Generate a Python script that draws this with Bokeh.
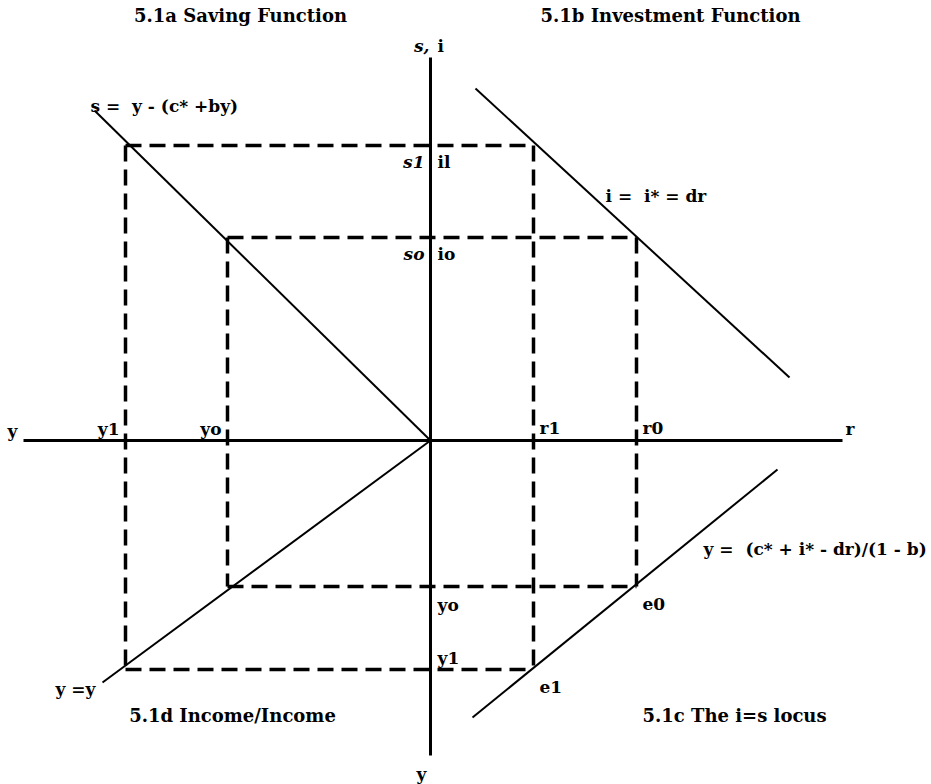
from bokeh.plotting import figure
from bokeh.models import Range1d, ColumnDataSource
from bokeh.core.properties import value
from bokeh.embed import file_html
from bokeh.resources import INLINE

# ---- data (schematic units, origin at axes crossing) ----
income_labels = ["yo", "y1"]
income_levels = [203, 305]          # income on left horizontal axis
saving_labels = ["so", "s1"]
invest_labels = ["io", "il"]
saving_levels = [203, 295]          # s = i levels on upper vertical axis
rate_labels = ["r0", "r1"]
rate_levels = [206, 103]            # interest rate on right horizontal axis
equil_labels = ["e0", "e1"]
income_down_levels = [146, 229]     # income on lower vertical axis

saving_fn_x = [-336, 0]
saving_fn_y = [330, 0]
invest_fn_x = [45, 359]
invest_fn_y = [352, 63]
locus_x = [42, 347]
locus_y = [-277, -29]
income_fn_x = [-328, 0]
income_fn_y = [-242, 0]

h_axis_x = [-407, 412]
v_axis_y = [383, -315]

FONT = value("DejaVu Serif")
NB = "\u00a0"

p = figure(width=931, height=784, output_backend="svg", toolbar_location=None,
           x_range=Range1d(-430, 501), y_range=Range1d(-344, 440),
           min_border=0)
p.axis.visible = False
p.grid.visible = False
p.outline_line_color = None

# axes
p.segment(x0=[h_axis_x[0], 0], y0=[0, v_axis_y[0]], x1=[h_axis_x[1], 0], y1=[0, v_axis_y[1]],
          line_color="black", line_width=3)

# dashed construction lines
y0, y1 = income_levels
s0, s1 = saving_levels
r0, r1 = rate_levels
d0, d1 = income_down_levels
dash = ColumnDataSource(dict(
    x0=[-y1, -y0, -y1, -y0, r1, r0, -y0, -y1],
    y0=[s1, s0, s1, s0, s1, s0, -d0, -d1],
    x1=[r1, r0, -y1, -y0, r1, r0, r0, r1],
    y1=[s1, s0, -d1, -d0, -d1, -d0, -d0, -d1],
))
p.segment(x0="x0", y0="y0", x1="x1", y1="y1", source=dash,
          line_color="black", line_width=3.5, line_dash="16 8")

# function lines
for xs, ys in [(saving_fn_x, saving_fn_y), (invest_fn_x, invest_fn_y),
               (locus_x, locus_y), (income_fn_x, income_fn_y)]:
    p.line(xs, ys, line_color="black", line_width=2)

LS = "17px"
def txt(x, y, s, size=LS, align="left", style="bold"):
    p.text(x=[x], y=[y], text=[s], text_font=FONT, text_font_size=size,
           text_font_style=style, text_align=align, text_baseline="middle",
           text_color="black")

# titles
TS = "18px"
txt(-190, 425, "5.1a Saving Function", TS, "center")
txt(240, 425, "5.1b Investment Function", TS, "center")
txt(-198, -275, "5.1d Income/Income", TS, "center")
txt(212, -275, "5.1c The i=s locus", TS, "left")

# axis labels
txt(-1, 395, "s,", LS, "right", "bold italic")
txt(7, 395, "i", LS, "left")
txt(-423, 10, "y", LS, "left")
txt(415, 12, "r", LS, "left")
txt(-9, -333, "y", LS, "center")

# function labels
txt(-340, 335, "s =" + NB + " y - (c* +by)", LS, "left")
txt(175, 245, "i =" + NB + " i* = dr", LS, "left")
txt(273, -108, "y =" + NB + " (c* + i* - dr)/(1 - b)", LS, "left")
txt(-375, -248, "y =y", LS, "left")

# level labels
for lab, lev in zip(saving_labels, saving_levels):
    txt(-6, lev - 16, lab, LS, "right", "bold italic" if lab.startswith("s") else "bold")
for lab, lev in zip(invest_labels, saving_levels):
    txt(7, lev - 16, lab, LS, "left")
for lab, lev in zip(income_labels, income_levels):
    txt(-lev - 6, 12, lab, LS, "right")
for lab, lev in zip(rate_labels, rate_levels):
    txt(lev + 6, 13, lab, LS, "left")
for lab, lev in zip(income_labels, income_down_levels):
    txt(7, -lev - 18 if lab == "yo" else -lev + 12, lab, LS, "left")
for lab, lev, rl in zip(equil_labels, income_down_levels, rate_levels):
    txt(rl + 6, -lev - 17, lab, LS, "left")

open("out.html", "w").write(file_html(p, INLINE))
